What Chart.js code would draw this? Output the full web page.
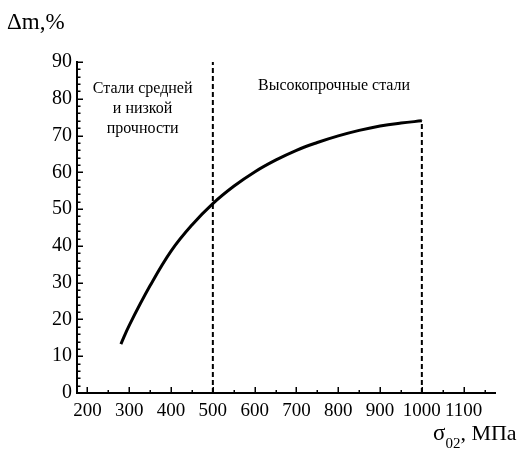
<!DOCTYPE html>
<html>
<head>
<meta charset="utf-8">
<script src="https://cdn.jsdelivr.net/npm/chart.js@4"></script>
<style>
  html, body { margin: 0; padding: 0; background: #fff; }
  #wrap { width: 524px; height: 453px; position: relative; }
</style>
</head>
<body>
<div id="wrap"><canvas id="c" width="524" height="453"></canvas></div>
<script>
// ---- data ----
const strengthMPa = [280, 300, 350, 400, 450, 500, 550, 600, 650, 700, 750, 800, 850, 900, 950, 1000];
const massGainPct = [13.3, 18.4, 29.2, 38.6, 45.7, 51.5, 56.2, 60.1, 63.3, 66.0, 68.1, 69.9, 71.4, 72.6, 73.4, 74.0];
const boundaryX = [500, 1000];
const boundaryTop = [90, 74];
const xTickLabels = [200, 300, 400, 500, 600, 700, 800, 900, 1000, 1100];
const xMinorTicks = [250, 350, 450, 550, 650, 750, 850, 950, 1050, 1150];
const yTickLabels = [0, 10, 20, 30, 40, 50, 60, 70, 80, 90];
const yMinorTicks = [2,4,6,8,12,14,16,18,22,24,26,28,32,34,36,38,42,44,46,48,52,54,56,58,62,64,66,68,72,74,76,78,82,84,86,88];
const regionLow = ["Стали средней", "и низкой", "прочности"];
const regionHigh = ["Высокопрочные стали"];
const yTitle = "Δm,%";
const xTitle = { main: "σ", sub: "02", rest: ", МПа" };

const serif = '"Liberation Serif", "Times New Roman", serif';

const curve = strengthMPa.map((x, i) => ({ x, y: massGainPct[i] }));

const datasets = [{
  data: curve,
  showLine: true,
  borderColor: '#000',
  borderWidth: 3,
  pointRadius: 0,
  tension: 0.4,
  fill: false
}];
boundaryX.forEach((bx, i) => {
  datasets.push({
    data: [{ x: bx, y: 0 }, { x: bx, y: boundaryTop[i] }],
    showLine: true,
    borderColor: '#000',
    borderWidth: 2,
    borderDash: [5, 3],
    pointRadius: 0,
    fill: false
  });
});

const extras = {
  id: 'extras',
  afterDraw(chart) {
    const ctx = chart.ctx;
    const xs = chart.scales.x, ys = chart.scales.y;
    const y0 = ys.getPixelForValue(0);
    const x0 = xs.left;
    ctx.save();
    ctx.strokeStyle = '#000';
    ctx.lineWidth = 1.5;
    ctx.beginPath();
    xTickLabels.forEach(v => { const p = Math.round(xs.getPixelForValue(v)) + 0.25; ctx.moveTo(p, y0); ctx.lineTo(p, y0 - 6); });
    xMinorTicks.forEach(v => { const p = Math.round(xs.getPixelForValue(v)) + 0.25; ctx.moveTo(p, y0); ctx.lineTo(p, y0 - 3); });
    yTickLabels.forEach(v => { if (v === 0) return; const p = Math.round(ys.getPixelForValue(v)) + 0.25; ctx.moveTo(x0, p); ctx.lineTo(x0 + 6, p); });
    yMinorTicks.forEach(v => { const p = Math.round(ys.getPixelForValue(v)) + 0.25; ctx.moveTo(x0, p); ctx.lineTo(x0 + 3.5, p); });
    ctx.stroke();

    ctx.fillStyle = '#000';
    ctx.textAlign = 'center';
    ctx.textBaseline = 'middle';
    ctx.font = '16px ' + serif;
    const lx = xs.getPixelForValue(332);
    regionLow.forEach((t, i) => {
      ctx.fillText(t, lx, ys.getPixelForValue(82.8) + i * 20);
    });
    ctx.fillText(regionHigh[0], xs.getPixelForValue(790), ys.getPixelForValue(83.6));

    // titles
    ctx.textAlign = 'left';
    ctx.textBaseline = 'alphabetic';
    ctx.font = '23px ' + serif;
    ctx.fillText(yTitle, 7, 29);

    ctx.font = '23px ' + serif;
    let tx = 433;
    ctx.fillText(xTitle.main, tx, 440);
    tx += ctx.measureText(xTitle.main).width;
    ctx.font = '15px ' + serif;
    ctx.fillText(xTitle.sub, tx, 448);
    tx += ctx.measureText(xTitle.sub).width;
    ctx.font = '22px ' + serif;
    ctx.fillText(xTitle.rest, tx, 440);
    ctx.restore();
  }
};

new Chart(document.getElementById('c'), {
  type: 'scatter',
  data: { datasets },
  options: {
    responsive: false,
    animation: false,
    devicePixelRatio: 1,
    layout: { padding: { left: 0, top: 62, right: 29, bottom: 0 } },
    plugins: { legend: { display: false }, tooltip: { enabled: false } },
    scales: {
      x: {
        type: 'linear',
        min: 175,
        max: 1175,
        afterBuildTicks: s => { s.ticks = xTickLabels.map(v => ({ value: v })); },
        afterFit: s => { s.height = 60; },
        grid: { display: false, drawTicks: false },
        border: { display: true, color: '#000', width: 2 },
        ticks: {
          color: '#000',
          padding: 7,
          maxRotation: 0,
          autoSkip: false,
          callback: v => String(v),
          font: { family: serif, size: 19 }
        }
      },
      y: {
        type: 'linear',
        min: 0,
        max: 90,
        afterBuildTicks: s => { s.ticks = yTickLabels.map(v => ({ value: v })); },
        afterFit: s => { s.width = 77; },
        grid: { display: false, drawTicks: false },
        border: { display: true, color: '#000', width: 2 },
        ticks: {
          color: '#000',
          padding: 5,
          autoSkip: false,
          callback: v => String(v),
          font: { family: serif, size: 20 }
        }
      }
    }
  },
  plugins: [extras]
});
</script>
</body>
</html>
